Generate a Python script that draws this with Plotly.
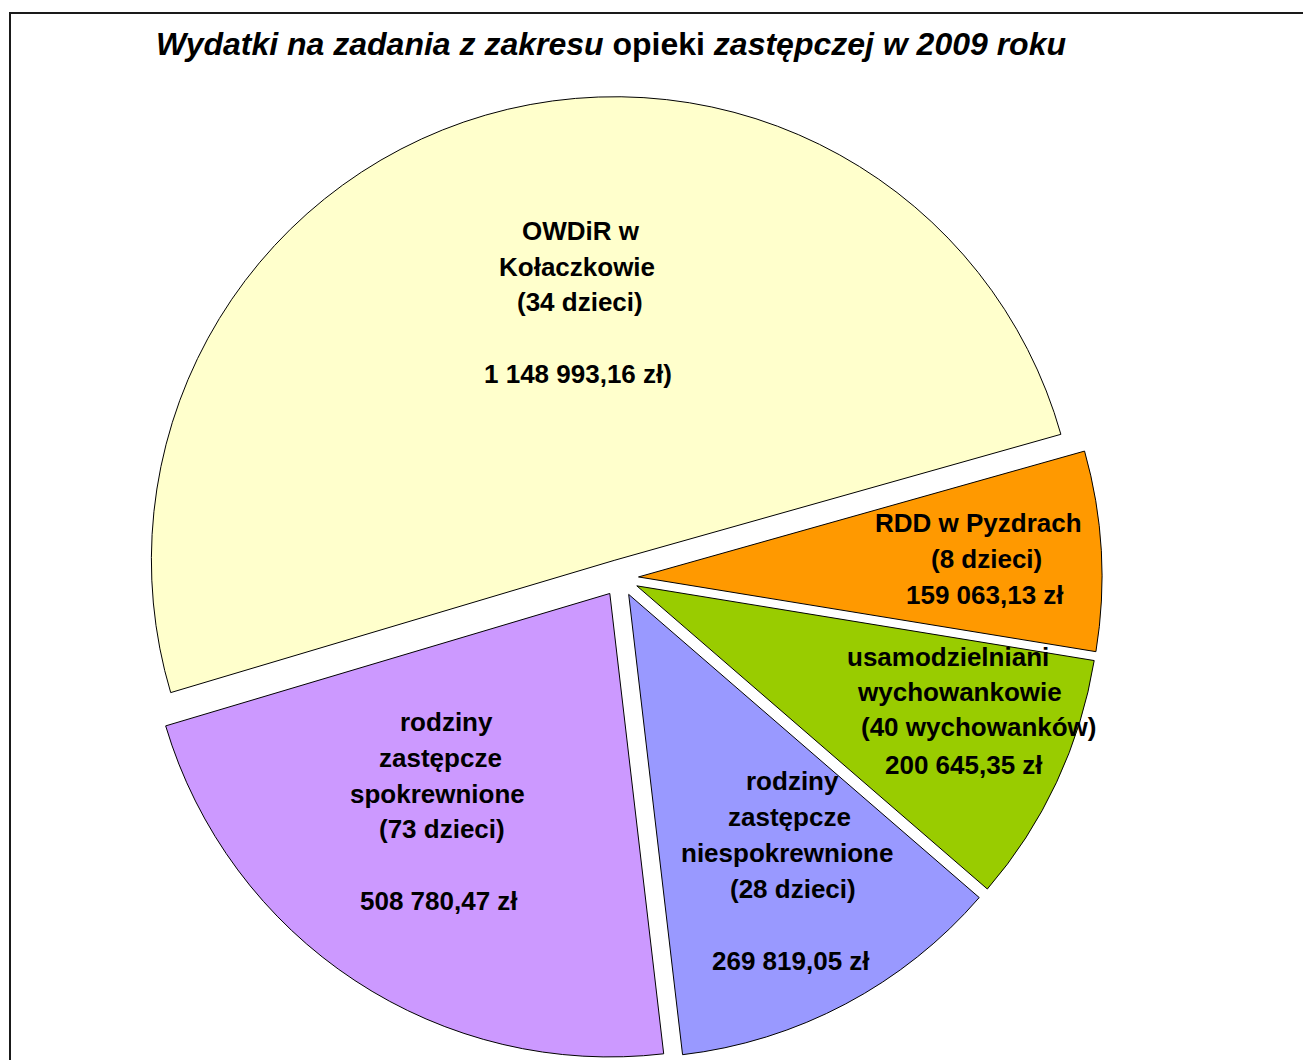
import plotly.graph_objects as go

# ---------------- data ----------------
categories = [
    "OWDiR w Kołaczkowie",
    "RDD w Pyzdrach",
    "usamodzielniani wychowankowie",
    "rodziny zastępcze niespokrewnione",
    "rodziny zastępcze spokrewnione",
]
values = [1148993.16, 159063.13, 200645.35, 269819.05, 508780.47]

label_lines = [
    ["OWDiR w", "Kołaczkowie", "(34 dzieci)", "1 148 993,16 zł)"],
    ["RDD w Pyzdrach", "(8 dzieci)", "159 063,13 zł"],
    ["usamodzielniani", "wychowankowie", "(40 wychowanków)", "200 645,35 zł"],
    ["rodziny", "zastępcze", "niespokrewnione", "(28 dzieci)", "269 819,05 zł"],
    ["rodziny", "zastępcze", "spokrewnione", "(73 dzieci)", "508 780,47 zł"],
]

title_text = ("<b><i>Wydatki na zadania z zakresu</i> opieki "
              "<i>zastępczej w 2009 roku</i></b>")

# ---------------- style / layout ----------------
W, H = 1303, 1060
colors = ["#FFFFCC", "#FF9900", "#99CC00", "#9999FF", "#CC99FF"]
FONT = "Liberation Sans, Arial, sans-serif"

# label line centres in pixels (x, y)
label_pos = [
    [(581, 231), (577, 267), (580, 302), (578, 374)],
    [(978, 523), (986, 559), (985, 595)],
    [(948, 657), (959, 692), (979, 727), (964, 765)],
    [(792, 781), (789, 817), (787, 853), (793, 889), (791, 961)],
    [(446, 722), (440, 758), (437, 794), (442, 829), (439, 901)],
]

# pie geometry (pixels)
cx, cy, box = 620, 578, 964

fig = go.Figure(
    go.Pie(
        labels=categories,
        values=values,
        sort=False,
        direction="clockwise",
        rotation=-106.6,
        pull=[0.04] * len(values),
        marker=dict(colors=colors, line=dict(color="black", width=1)),
        textinfo="none",
        hoverinfo="label+value+percent",
        showlegend=False,
        domain=dict(
            x=[(cx - box / 2) / W, (cx + box / 2) / W],
            y=[(H - cy - box / 2) / H, (H - cy + box / 2) / H],
        ),
    )
)

annotations = []
for lines, poss in zip(label_lines, label_pos):
    for txt, (px, py) in zip(lines, poss):
        annotations.append(dict(
            text="<b>" + txt + "</b>", x=px / W, y=1 - py / H,
            xref="paper", yref="paper", xanchor="center", yanchor="middle",
            showarrow=False, font=dict(family=FONT, size=26, color="black"),
        ))

annotations.append(dict(
    text=title_text, x=611 / W, y=1 - 44 / H, xref="paper", yref="paper",
    xanchor="center", yanchor="middle", showarrow=False,
    font=dict(family=FONT, size=32, color="black"),
))

fig.update_layout(
    width=W, height=H,
    margin=dict(l=0, r=0, t=0, b=0),
    paper_bgcolor="white", plot_bgcolor="white",
    annotations=annotations,
    shapes=[dict(type="rect", xref="paper", yref="paper",
                 x0=10 / W, x1=1.02, y0=-0.02, y1=1 - 13 / H,
                 line=dict(color="#1a1a1a", width=2), fillcolor="rgba(0,0,0,0)")],
)

fig.write_html(
    "out.html",
    config={"displayModeBar": False},
    post_script="document.body.style.margin='0';document.body.style.overflow='hidden';",
)
